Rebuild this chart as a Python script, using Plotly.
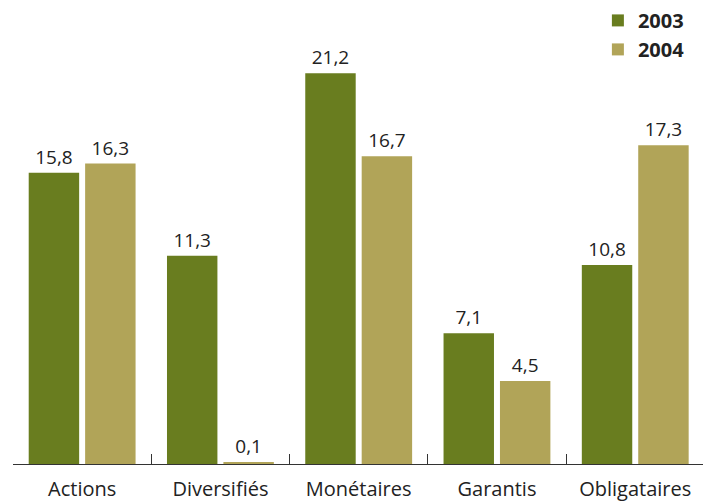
import plotly.graph_objects as go

categories = ["Actions", "Diversifiés", "Monétaires", "Garantis", "Obligataires"]
values_2003 = [15.8, 11.3, 21.2, 7.1, 10.8]
values_2004 = [16.3, 0.1, 16.7, 4.5, 17.3]
series_names = ["2003", "2004"]
colors = ["#697d1f", "#b1a458"]

def fmt(v):
    return f"{v:.1f}".replace(".", ",")

fig = go.Figure()
for name, vals, col in zip(series_names, [values_2003, values_2004], colors):
    fig.add_trace(go.Bar(
        x=categories, y=vals, name=name,
        marker=dict(color=col, line=dict(width=0)),
        text=[fmt(v) for v in vals], textposition="outside",
        textfont=dict(family="Open Sans", size=19, color="#222222"),
        cliponaxis=False,
    ))

fig.update_layout(
    width=703, height=502,
    margin=dict(l=13, r=0, t=20, b=34),
    paper_bgcolor="white", plot_bgcolor="white",
    barmode="group", bargap=0.184, bargroupgap=0.106,
    font=dict(family="Open Sans", color="#222222"),
    showlegend=True,
    legend=dict(
        x=0.981, y=1.043, xanchor="right", yanchor="top",
        font=dict(family="Open Sans", size=20, color="#222222", weight="bold"),
        bgcolor="rgba(0,0,0,0)", tracegroupgap=0, itemwidth=30,
    ),
    xaxis=dict(
        type="category", range=[-0.5, 4.49],
        showline=True, linecolor="#333333", linewidth=1,
        ticks="inside", ticklen=10, tickcolor="#333333", tickwidth=1,
        tickson="boundaries",
        tickfont=dict(family="Open Sans", size=20, color="#222222"),
        ticklabelstandoff=7,
        showgrid=False, zeroline=False,
    ),
    yaxis=dict(
        range=[0, 24.09], visible=False, showgrid=False, zeroline=False,
    ),
)

fig.write_html("out.html")
